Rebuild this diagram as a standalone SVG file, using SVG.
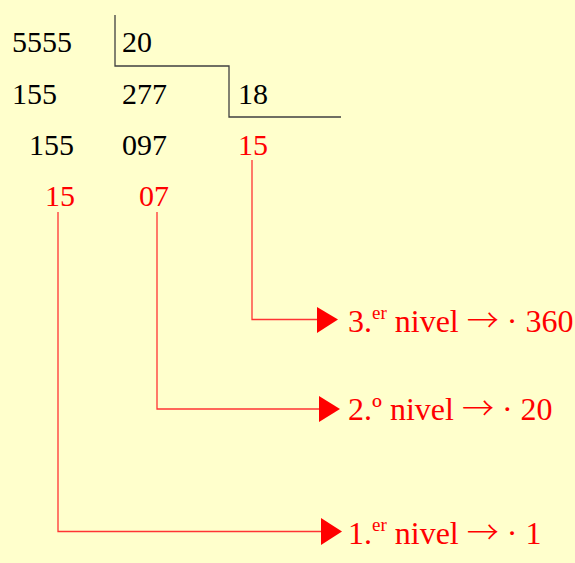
<svg xmlns="http://www.w3.org/2000/svg" width="575" height="563" viewBox="0 0 575 563">
<style>
.n{font-family:"Liberation Serif","Times New Roman",serif;font-size:30px;fill:#000}
.r{fill:#ff0000}
.l{font-family:"Liberation Serif","Times New Roman",serif;font-size:32px;fill:#ff0000}
.s{font-size:19px}
.ar{font-family:"Noto Sans CJK SC","DejaVu Sans",sans-serif;font-weight:300}
.k{fill:none;stroke:#404040;stroke-width:1.3}
.c{fill:none;stroke:#ff3333;stroke-width:1.3}
.a{fill:#ff0000}
</style>
<rect width="575" height="563" fill="#ffffcc"/>
<g id="division-lines">
<path class="k" d="M115,15 V66 H229 V117 H341"/>
</g>
<g id="numbers">
<text class="n" x="12" y="52">5555</text>
<text class="n" x="122" y="52">20</text>
<text class="n" x="12" y="104">155</text>
<text class="n" x="122" y="104">277</text>
<text class="n" x="238" y="104">18</text>
<text class="n" x="29" y="155">155</text>
<text class="n" x="122" y="155">097</text>
<text class="n r" x="238" y="155">15</text>
<text class="n r" x="45" y="206">15</text>
<text class="n r" x="139" y="206">07</text>
</g>
<g id="connectors">
<path class="c" d="M252,160 V319.5 H320"/>
<polygon class="a" points="317,307 338,319.5 317,333"/>
<path class="c" d="M157,212 V409 H322"/>
<polygon class="a" points="319,396 340,409 319,422"/>
<path class="c" d="M58,212 V531.5 H324"/>
<polygon class="a" points="321,518 342,531.5 321,545"/>
</g>
<g id="label-3">
<text class="l" x="348" y="332">3.<tspan class="s" dy="-13">er</tspan><tspan dy="13"> nivel </tspan><tspan class="ar">→</tspan> · 360</text>
</g>
<g id="label-2">
<text class="l" x="348" y="420">2.º nivel <tspan class="ar">→</tspan> · 20</text>
</g>
<g id="label-1">
<text class="l" x="348" y="544">1.<tspan class="s" dy="-13">er</tspan><tspan dy="13"> nivel </tspan><tspan class="ar">→</tspan> · 1</text>
</g>
</svg>
